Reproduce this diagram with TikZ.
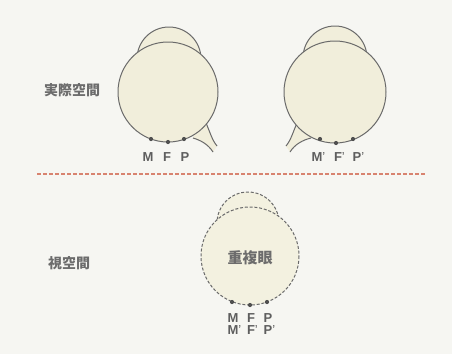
\documentclass[tikz,border=0pt]{standalone}
\usepackage{fontspec}
\setmainfont{Liberation Sans}
\newfontfamily\jpfont{Noto Sans CJK JP}
\definecolor{paper}{HTML}{F6F6F2}
\definecolor{cream}{HTML}{F1EEDB}
\definecolor{outline}{HTML}{6A6A6A}
\definecolor{inkgray}{HTML}{505050}
\definecolor{labelgray}{HTML}{5E5E5E}
\definecolor{jpgray}{HTML}{6C6C6C}
\definecolor{divider}{HTML}{D8836F}
\begin{document}
\begin{tikzpicture}[x=1pt,y=-1pt,
  eyeline/.style={draw=outline, line width=1pt, fill=cream},
  dashline/.style={draw=outline, line width=1pt, fill=cream!85!white, dash pattern=on 3pt off 1.8pt},
  nerveline/.style={draw=outline, line width=1pt},
  retdot/.style={circle, fill=inkgray, inner sep=0pt, minimum size=4.2pt},
  letter/.style={inner sep=0pt, text=labelgray, font=\fontsize{13}{15}\selectfont\bfseries},
  jplabel/.style={inner sep=0pt, text=jpgray, font=\jpfont\fontsize{14}{16}\selectfont\bfseries},
]
% page
\useasboundingbox[fill=paper] (0,0) rectangle (452,354);

% ---------- left eye (real space) ----------
\fill[cream] (199,115) -- (206,123) .. controls (210,132) and (212,140) .. (217,146)
  -- (213,152) .. controls (208,144) and (200,140) .. (193,138) -- cycle;
\draw[nerveline] (206,123) .. controls (210,132) and (212,140) .. (217,146);
\draw[nerveline] (193,138) .. controls (200,140) and (208,144) .. (213,152);
\path[eyeline] (169,59) circle[radius=32];
\path[eyeline] (168,92) circle[radius=50];
\node[retdot] (lM) at (151,139) {};
\node[retdot] (lF) at (168,142) {};
\node[retdot] (lP) at (184,139) {};
\node[letter] (tlM) at (148,157) {M};
\node[letter] (tlF) at (167,157) {F};
\node[letter] (tlP) at (185,157) {P};

% ---------- right eye (real space) ----------
\fill[cream] (304,115) -- (297,123) .. controls (293,132) and (291,140) .. (286,146)
  -- (290,152) .. controls (295,144) and (303,140) .. (311,138) -- cycle;
\draw[nerveline] (297,123) .. controls (293,132) and (291,140) .. (286,146);
\draw[nerveline] (311,138) .. controls (303,140) and (295,144) .. (290,152);
\path[eyeline] (335,58) circle[radius=32];
\path[eyeline] (335,92) circle[radius=51];
\node[retdot] (rM) at (320,139) {};
\node[retdot] (rF) at (336,143) {};
\node[retdot] (rP) at (353,139) {};
\node[letter] (trM) at (317,157) {M\rlap{\mdseries’}};
\node[letter] (trF) at (338,157) {F\rlap{\mdseries’}};
\node[letter] (trP) at (357,157) {P\rlap{\mdseries’}};

\node[jplabel] (real) at (72,90) {実際空間};

% ---------- divider ----------
\coordinate (divL) at (37,174);
\coordinate (divR) at (425,174);
\draw[divider, line width=1.1pt, dash pattern=on 4pt off 2pt] (divL) -- (divR);

% ---------- cyclopean eye (visual space) ----------
\path[dashline] (248,223) circle[radius=31];
\path[dashline] (250,256) circle[radius=49];
\node[jplabel, font=\jpfont\fontsize{15}{17}\selectfont\bfseries] (cyc) at (250,258) {重複眼};
\node[retdot] (cM) at (232,302) {};
\node[retdot] (cF) at (250,305) {};
\node[retdot] (cP) at (267,302) {};
\node[letter] (cM1) at (233,318) {M};
\node[letter] (cF1) at (251,318) {F};
\node[letter] (cP1) at (268,318) {P};
\node[letter] (cM2) at (233,330) {M\rlap{\mdseries’}};
\node[letter] (cF2) at (251,330) {F\rlap{\mdseries’}};
\node[letter] (cP2) at (268,330) {P\rlap{\mdseries’}};

\node[jplabel] (vis) at (69,263) {視空間};
\end{tikzpicture}
\end{document}
